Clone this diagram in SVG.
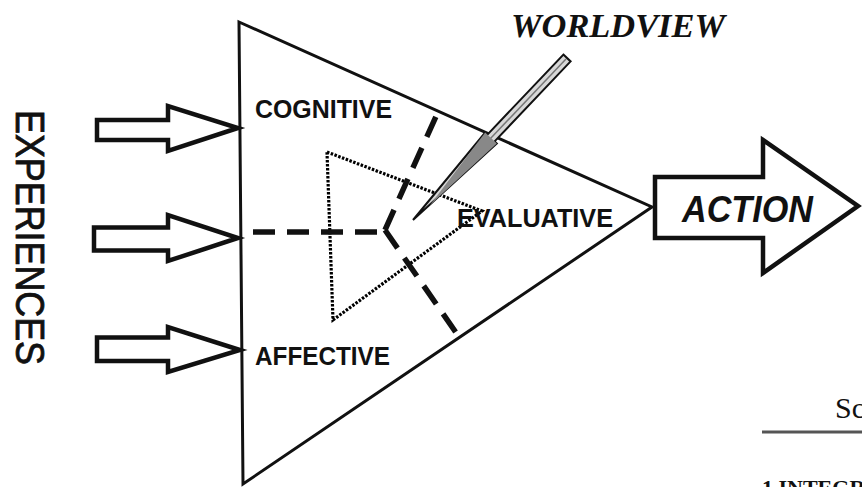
<svg xmlns="http://www.w3.org/2000/svg" width="862" height="487" viewBox="0 0 862 487">
<style>
.arrow{fill:#fff;stroke:#111;stroke-width:4.5;stroke-linejoin:miter}
.sans{font-family:"Liberation Sans",Arial,sans-serif;font-weight:bold;fill:#111}
.serif{font-family:"Liberation Serif","Times New Roman",serif;fill:#111}
.dash{stroke:#111;stroke-width:5.5;stroke-dasharray:22 12;fill:none}
.dot{stroke:#000;stroke-width:3.2;stroke-dasharray:2.5 1.5;fill:none}
</style>
<rect width="862" height="487" fill="#fff"/>
<g id="experiences-label">
<text class="sans" style="font-weight:normal" stroke="#111" stroke-width="0.8" transform="translate(16,110) rotate(90)" font-size="40" textLength="255" lengthAdjust="spacingAndGlyphs">EXPERIENCES</text>
</g>
<g id="input-arrows">
<polygon class="arrow" points="97,120 168,120 168,106 238,128 168,151 168,140 97,140"/>
<polygon class="arrow" points="94,227.5 168,227.5 168,215 238,238 168,261 168,250.5 94,250.5"/>
<polygon class="arrow" points="97,337.5 168,337.5 168,327 240,350 168,372 168,361 97,361"/>
</g>
<g id="main-triangle">
<polygon points="239,22 652,207 243,484" fill="none" stroke="#111" stroke-width="3" stroke-linejoin="miter"/>
</g>
<g id="connectors">
<polygon class="dot" points="327,152 482,211 333,320"/>
<line class="dash" x1="253" y1="232" x2="385" y2="232"/>
<line class="dash" x1="385" y1="230" x2="438" y2="112"/>
<line class="dash" x1="385" y1="230" x2="457" y2="334"/>
</g>
<g id="cognitive">
<text class="sans" x="255" y="118" font-size="25" textLength="137" lengthAdjust="spacingAndGlyphs">COGNITIVE</text>
</g>
<g id="affective">
<text class="sans" x="255" y="365" font-size="25" textLength="135" lengthAdjust="spacingAndGlyphs">AFFECTIVE</text>
</g>
<g id="evaluative">
<text class="sans" x="457" y="227" font-size="25" textLength="156" lengthAdjust="spacingAndGlyphs">EVALUATIVE</text>
</g>
<g id="worldview">
<text class="serif" x="511" y="37" font-size="34" font-weight="bold" font-style="italic" textLength="214" lengthAdjust="spacingAndGlyphs">WORLDVIEW</text>
<polygon points="563.4,54.6 570.6,61.4 494.6,141.4 496.8,143.5 413,220 485.2,132.5 487.4,134.6" fill="#d8d8d8" stroke="#111" stroke-width="2" stroke-linejoin="miter"/>
<line x1="566" y1="59" x2="490" y2="139" stroke="#777" stroke-width="1.5"/>
<polygon points="485.2,132.5 496.8,143.5 430,205" fill="#888" stroke="none"/>
</g>
<g id="action">
<polygon class="arrow" points="655,177 763,177 763,140 858,206 763,273 763,238 655,238"/>
<text class="sans" x="682" y="222" font-size="36" font-style="italic" textLength="131" lengthAdjust="spacingAndGlyphs">ACTION</text>
</g>
<g id="footer">
<text class="serif" x="835" y="418" font-size="30">Sc</text>
<line x1="762" y1="432" x2="862" y2="432" stroke="#555" stroke-width="3"/>
<text class="serif" x="762" y="495" font-size="22" font-weight="bold">1 INTEGR</text>
</g>
</svg>
